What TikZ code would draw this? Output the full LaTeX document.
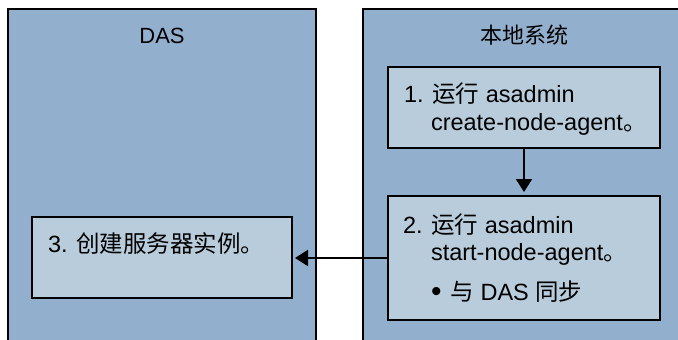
\documentclass[tikz,border=0pt]{standalone}
\usepackage{fontspec}
\setmainfont{Liberation Sans}
\newfontfamily\cjk{Noto Sans CJK SC}
\usetikzlibrary{arrows.meta}
\definecolor{outerblue}{HTML}{93AFCE}
\definecolor{innerblue}{HTML}{B8CCDB}
\begin{document}
\begin{tikzpicture}[x=1pt,y=-1pt,
  font=\fontsize{23.5}{28}\selectfont,
  outerbox/.style={draw=black,line width=2pt,fill=outerblue,inner sep=0pt,outer sep=0pt,rectangle},
  stepbox/.style={draw=black,line width=1.3pt,fill=innerblue,inner sep=0pt,outer sep=0pt,rectangle},
  txt/.style={anchor=base west,inner sep=0pt,outer sep=0pt},
  ttl/.style={anchor=base,inner sep=0pt,outer sep=0pt,font=\fontsize{22}{26}\selectfont},
  conn/.style={line width=2pt,-{Triangle[length=13pt,width=16pt]}}]
\useasboundingbox (0,0) rectangle (678,340);
\clip (0,0) rectangle (678,340);
\fill[white] (0,0) rectangle (678,340);
\node[outerbox,minimum width=308pt,minimum height=340pt] (das) at (162,179) {};
\node[outerbox,minimum width=330pt,minimum height=340pt] (local) at (528,179) {};
\node[ttl] (dastitle) at (162,43) {DAS};
\node[ttl] (localtitle) at (524,43) {\cjk 本地系统};
\node[stepbox,minimum width=272pt,minimum height=81pt] (s1) at (524,107.5) {};
\node[stepbox,minimum width=272pt,minimum height=124pt] (s2) at (524,258) {};
\node[stepbox,minimum width=260pt,minimum height=81pt] (s3) at (162,257.5) {};
\node[txt] (t1a) at (404,102) {1. {\cjk 运行} asadmin};
\node[txt] (t1b) at (431,130) {create-node-agent{\cjk 。}};
\node[txt] (t2a) at (403,233) {2. {\cjk 运行} asadmin};
\node[txt] (t2b) at (431,260) {start-node-agent{\cjk 。}};
\node[txt] (t2c) at (431,300) {{\fontsize{30}{30}\selectfont\raisebox{-1pt}{•}}\hspace{9pt}{\cjk 与} DAS {\cjk 同步}};
\node[txt] (t3) at (48,252) {3. {\cjk 创建服务器实例。}};
\draw[conn,shorten >=4pt] (s1.south) -- (s2.north);
\draw[conn,shorten >=3pt] (s2.west) -- (s2.west -| s3.east);
\end{tikzpicture}
\end{document}
